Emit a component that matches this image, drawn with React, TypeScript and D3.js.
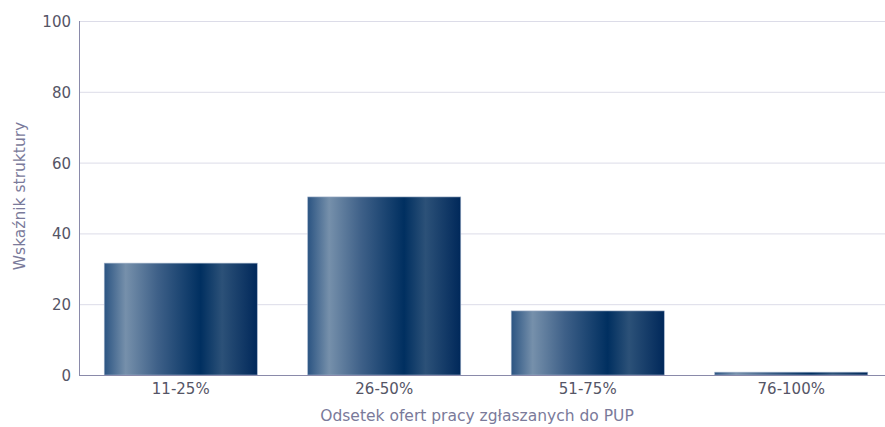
import React from "react";
import * as d3 from "d3";

const categories = ["11-25%", "26-50%", "51-75%", "76-100%"];
const values = [31.6, 50.3, 18.1, 0.8];
const yTicks = [0, 20, 40, 60, 80, 100];
const xTitle = "Odsetek ofert pracy zgłaszanych do PUP";
const yTitle = "Wskaźnik struktury";

const W = 885;
const H = 427;
const left = 79;
const right = 893;
const top = 21;
const bottom = 375;

export default function App() {
  const x = d3.scaleBand<string>().domain(categories).range([left, right]).paddingInner(0.248).paddingOuter(0.124);
  const y = d3.scaleLinear().domain([0, 100]).range([bottom, top]);
  const font = "'DejaVu Sans', Verdana, sans-serif";
  return (
    <svg width={W} height={H} style={{ position: "absolute", left: 0, top: 0, background: "#fff" }}>
      <defs>
        <linearGradient id="barGrad" x1="0" x2="1" y1="0" y2="0">
          <stop offset="0" stopColor="#2b5482" />
          <stop offset="0.14" stopColor="#7690ab" />
          <stop offset="0.35" stopColor="#3e6088" />
          <stop offset="0.63" stopColor="#002f60" />
          <stop offset="0.77" stopColor="#2c5178" />
          <stop offset="1" stopColor="#00285a" />
        </linearGradient>
      </defs>
      {yTicks.map((t) => (
        <g key={t}>
          {t > 0 && <line x1={left} x2={W} y1={y(t) + 0.5} y2={y(t) + 0.5} stroke="#dcdce8" strokeWidth={1} />}
          <text x={left - 8} y={y(t) + 6} textAnchor="end" fontFamily={font} fontSize={15} fill="#555566">
            {t}
          </text>
        </g>
      ))}
      {categories.map((c, i) => (
        <rect
          key={c}
          x={x(c)}
          y={y(values[i])}
          width={x.bandwidth()}
          height={bottom - y(values[i])}
          fill="url(#barGrad)"
          stroke="#9fb0c8"
          strokeWidth={0.6}
        />
      ))}
      <line x1={left + 0.5} x2={left + 0.5} y1={top} y2={bottom} stroke="#8a8aaa" strokeWidth={1} />
      <line x1={left} x2={W} y1={bottom + 0.5} y2={bottom + 0.5} stroke="#8a8aaa" strokeWidth={1} />
      {categories.map((c) => (
        <text key={c} x={(x(c) as number) + x.bandwidth() / 2} y={bottom + 19} textAnchor="middle" fontFamily={font} fontSize={15} fill="#555566">
          {c}
        </text>
      ))}
      <text x={477} y={421} textAnchor="middle" fontFamily={font} fontSize={15.5} fill="#7a7a9a">
        {xTitle}
      </text>
      <text transform={`translate(25, ${196}) rotate(-90)`} textAnchor="middle" fontFamily={font} fontSize={15.5} fill="#7a7a9a">
        {yTitle}
      </text>
    </svg>
  );
}
